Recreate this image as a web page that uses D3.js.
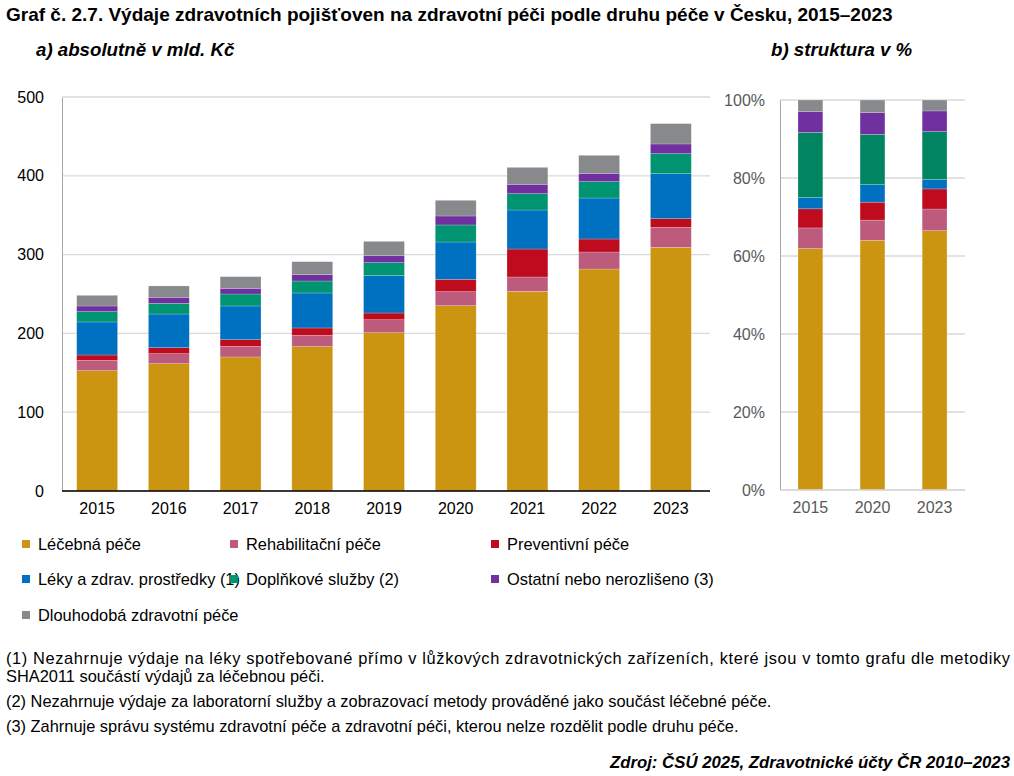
<!DOCTYPE html><html><head><meta charset="utf-8"><script src="https://cdn.jsdelivr.net/npm/d3@7"></script>
<style>body{margin:0;background:#fff;font-family:"Liberation Sans",Arial,sans-serif}</style></head><body><svg id="c" width="1014" height="776"></svg>
<script>
const years=["2015","2016","2017","2018","2019","2020","2021","2022","2023"];
const seriesNames=["Léčebná péče","Rehabilitační péče","Preventivní péče","Léky a zdrav. prostředky (1)","Doplňkové služby (2)","Ostatní nebo nerozlišeno (3)","Dlouhodobá zdravotní péče"];
const colors=["#cc9511","#bc5b7c","#be0b1e","#0070c0","#009470","#7030a0","#87898c"];
const lecebna=[152.7,161.6,170.1,183.2,200.9,235.2,253.4,281.7,309.2];
const rehab=[13.1,12.7,13.5,14.3,16.5,17.8,18.2,21.6,25.4];
const prevent=[6.8,7.6,8.4,9.4,8.5,15.6,35.5,16.5,11.0];
const leky=[41.9,42.7,42.8,44.4,47.4,47.4,49.5,52.0,57.1];
const doplnk=[13.1,13.6,15.2,15.2,16.5,21.6,20.7,20.8,25.4];
const ostatni=[7.2,7.6,7.2,8.0,8.8,11.4,11.9,10.5,12.3];
const dlouh=[13.5,14.4,14.8,16.5,18.2,19.9,21.5,22.9,25.8];
const yTicks=[0,100,200,300,400,500];
const sYears=["2015","2020","2023"];
const sLecebna=[61.9,64.0,66.5];
const sRehab=[5.3,5.2,5.55];
const sPrevent=[4.9,4.6,5.15];
const sLeky=[2.9,4.5,2.4];
const sDoplnk=[16.7,12.9,12.3];
const sOstatni=[5.3,5.55,5.3];
const sDlouh=[3.0,3.25,2.8];
const pTicks=[0,20,40,60,80,100];

const svg=d3.select("#c");
const keys=d3.range(7);
function stackChart(cats,arrs,x0,x1,gx1,y0,y1,dom,ticks,fmt,pi,po,pad,cols){
  const rows=cats.map((c,i)=>{const o={c};arrs.forEach((a,k)=>o[k]=a[i]);return o;});
  const st=d3.stack().keys(keys)(rows);
  const x=d3.scaleBand().domain(cats).range([x0,x1]).paddingInner(pi).paddingOuter(po);
  const y=d3.scaleLinear().domain(dom).range([y0,y1]);
  const g=svg.append("g");
  g.selectAll("line.g").data(ticks).join("line").attr("x1",x0).attr("x2",gx1).attr("y1",d=>y(d)).attr("y2",d=>y(d)).attr("stroke","#d9d9d9").attr("stroke-width",1.3);
  st.forEach((s,k)=>g.selectAll(null).data(s).join("rect").attr("x",d=>x(d.data.c)).attr("width",x.bandwidth()).attr("y",d=>y(d[1])).attr("height",d=>y(d[0])-y(d[1])).attr("fill",cols[k]).attr("stroke","#fff").attr("stroke-opacity",0.35).attr("stroke-width",0.6));
  const ax=g.append("g").attr("transform",`translate(${x0},0)`).call(d3.axisLeft(y).tickValues(ticks).tickFormat(fmt).tickSize(0).tickPadding(pad));
  ax.select(".domain").attr("stroke","#a6a6a6");
  ax.selectAll("text").attr("font-size",16).attr("fill","#000").attr("font-family","Liberation Sans, Arial");
  const bx=g.append("g").attr("transform",`translate(0,${y0})`).call(d3.axisBottom(x).tickSize(0).tickPadding(12));
  bx.select(".domain").attr("stroke","#000").attr("stroke-width",1.3).attr("d",`M${x0},0H${gx1}`);
  bx.selectAll("text").attr("font-size",16).attr("fill","#000").attr("font-family","Liberation Sans, Arial");
  return {ax,bx};
}
stackChart(years,[lecebna,rehab,prevent,leky,doplnk,ostatni,dlouh],62,706,710,491,97,[0,500],yTicks,d=>d,0.43,0.205,18,colors);
const col2=colors.slice();col2[4]="#008462";
const r=stackChart(sYears,[sLecebna,sRehab,sPrevent,sLeky,sDoplnk,sOstatni,sDlouh],780,965,965,490,100,[0,100],pTicks,d=>d+"%",0.6,0.29,15,col2);
r.ax.selectAll("text").attr("fill","#595959");r.ax.select(".domain").attr("stroke","#a6a6a6");
r.bx.selectAll("text").attr("fill","#595959");r.bx.select(".domain").attr("stroke","#d9d9d9");

const t=(x,y,s,o={})=>svg.append("text").attr("x",x).attr("y",y).text(s).attr("font-size",o.fs||16.4).attr("font-weight",o.fw||"normal").attr("font-style",o.it||"normal").attr("text-anchor",o.a||"start").attr("fill","#000");
t(6,21,"Graf č. 2.7. Výdaje zdravotních pojišťoven na zdravotní péči podle druhu péče v Česku, 2015–2023",{fs:19,fw:"bold"});
t(36,56,"a) absolutně v mld. Kč",{fs:18.7,fw:"bold",it:"italic"});
t(771,56,"b) struktura v %",{fs:18.7,fw:"bold",it:"italic"});
const lx=[22,230,491],ly=[544,579,615];
seriesNames.forEach((n,i)=>{const X=lx[i%3],Y=ly[Math.floor(i/3)];
  svg.append("rect").attr("x",X).attr("y",Y-4).attr("width",8).attr("height",8).attr("fill",colors[i]);
  t(X+16,Y+6,n);});
t(6,664,"(1) Nezahrnuje výdaje na léky spotřebované přímo v lůžkových zdravotnických zařízeních, které jsou v tomto grafu dle metodiky").attr("textLength",1004).attr("lengthAdjust","spacing");
t(6,682,"SHA2011 součástí výdajů za léčebnou péči.");
t(6,707,"(2) Nezahrnuje výdaje za laboratorní služby a zobrazovací metody prováděné jako součást léčebné péče.");
t(6,732,"(3) Zahrnuje správu systému zdravotní péče a zdravotní péči, kterou nelze rozdělit podle druhu péče.");
t(1010,768,"Zdroj: ČSÚ 2025, Zdravotnické účty ČR 2010–2023",{fs:16.8,fw:"bold",it:"italic",a:"end"});
</script></body></html>
